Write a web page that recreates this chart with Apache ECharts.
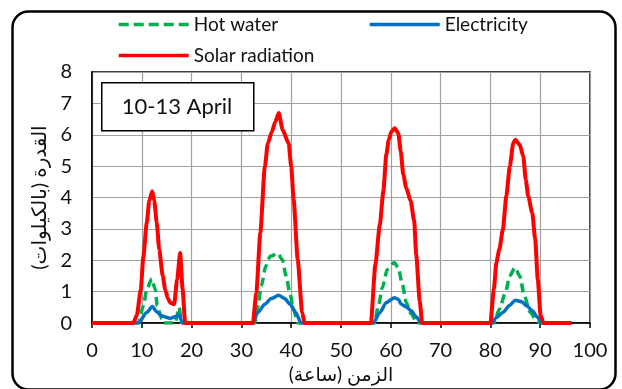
<!DOCTYPE html>
<html>
<head>
<meta charset="utf-8">
<script src="https://cdn.jsdelivr.net/npm/echarts@6/dist/echarts.min.js"></script>
<style>html,body{margin:0;padding:0;background:#fff}#c{width:622px;height:389px}</style>
</head>
<body>
<div id="c"></div>
<script>
const seriesNames = ['Hot water', 'Electricity', 'Solar radiation'];
const xTicks = [0, 10, 20, 30, 40, 50, 60, 70, 80, 90, 100];
const yTicks = [0, 1, 2, 3, 4, 5, 6, 7, 8];
const xAxisName = '\u200Fالزمن (ساعة)\u200F';
const yAxisName = '\u200Fالقدرة (بالكيلوات)\u200F';
const annotation = '10-13 April';

const hotWaterHours = [0, 9.3, 10.3, 11, 12, 12.7, 13.1, 14, 14.3, 16.7, 17.5, 18, 32.7, 33.3, 34, 34.9, 35.8, 37.3, 38.2, 39, 39.7, 40.5, 41.3, 56.7, 57.5, 58.3, 59.3, 60.7, 61.5, 62.3, 63.1, 64.1, 65.3, 80.7, 81.8, 83, 83.9, 84.9, 85.9, 86.8, 88, 89.3, 90, 96];
const hotWaterValues = [0, 0, 0.55, 1.07, 1.41, 1.07, 0.55, 0.13, 0, 0, 0.5, 0, 0, 0.55, 1.18, 1.82, 2.13, 2.22, 2.03, 1.5, 0.97, 0.44, 0, 0, 0.55, 1.13, 1.71, 1.93, 1.77, 1.24, 0.66, 0.29, 0, 0, 0.44, 0.97, 1.5, 1.77, 1.5, 0.87, 0.34, 0.07, 0, 0];

const electricityHours = [0, 9.3, 11, 12.1, 13, 14, 15.7, 16.9, 17.5, 18, 18.3, 32.3, 33.3, 34.7, 36, 37.5, 38.7, 39.8, 40.9, 42, 56.5, 57.8, 59.1, 60.7, 61.5, 62.1, 63.1, 64.1, 65.1, 66.1, 80.3, 81.2, 82.5, 83.9, 85, 86.3, 87.3, 88.4, 89.5, 90.3, 96];
const electricityValues = [0, 0, 0.34, 0.53, 0.36, 0.23, 0.15, 0.21, 0.28, 0.05, 0, 0, 0.34, 0.6, 0.78, 0.89, 0.78, 0.6, 0.34, 0, 0, 0.34, 0.66, 0.81, 0.76, 0.6, 0.52, 0.39, 0.2, 0, 0, 0.18, 0.34, 0.57, 0.73, 0.68, 0.55, 0.39, 0.18, 0, 0];

const solarHours = [0, 8.3, 9, 9.8, 10.3, 11, 11.5, 12.1, 12.5, 13, 13.5, 14.2, 14.7, 15.2, 15.7, 16.5, 17.1, 17.7, 18.2, 18.7, 32.3, 33, 33.8, 34.7, 35.3, 36.1, 36.8, 37.5, 38.3, 39.5, 40, 40.5, 41.3, 42.2, 42.7, 56, 56.9, 57.8, 58.5, 59.1, 59.6, 60.1, 60.8, 61.5, 62, 62.5, 63.1, 64, 64.7, 65.1, 65.8, 66.3, 80, 80.7, 81.2, 81.8, 82.5, 83.2, 83.9, 84.6, 85, 85.9, 86.6, 87.1, 87.6, 88.4, 89, 89.5, 90.1, 90.7, 96.3];
const solarValues = [0, 0, 0.25, 1.07, 2.1, 3.2, 3.9, 4.2, 3.9, 3.2, 2.35, 1.5, 1.07, 0.8, 0.65, 0.6, 1.4, 2.23, 1.07, 0, 0, 0.97, 2.87, 4.98, 5.72, 6.09, 6.41, 6.69, 6.15, 5.72, 4.98, 3.93, 2.03, 0.34, 0, 0, 1.87, 3.14, 4.2, 5.37, 5.84, 6.1, 6.21, 6.05, 5.47, 4.73, 4.31, 3.88, 3.25, 2.19, 0.71, 0, 0, 1.08, 1.93, 2.35, 2.98, 4.04, 5.0, 5.74, 5.84, 5.68, 5.31, 4.57, 4.04, 3.51, 2.67, 1.4, 0.23, 0, 0];

const pairs = (xs, ys) => xs.map((x, i) => [x, ys[i]]);
const FONT = 'Lato, "DejaVu Sans", sans-serif';
const legendBase = {itemWidth: 70, itemHeight: 14,
  itemStyle: {color: 'transparent', borderColor: 'transparent', borderWidth: 0, opacity: 0},
  textStyle: {fontSize: 19, color: '#111', fontFamily: FONT}};

const chart = echarts.init(document.getElementById('c'), null, {renderer: 'canvas'});
chart.setOption({
  animation: false,
  backgroundColor: '#fff',
  textStyle: {fontFamily: FONT},
  grid: {left: 92, right: 32, top: 72, bottom: 65, show: true, borderColor: '#000', borderWidth: 1.5, containLabel: false},
  legend: [
    Object.assign({data: [seriesNames[0]], left: 112, top: 10, lineStyle: {width: 3.5, type: [10, 5], color: '#00b050'}}, legendBase),
    Object.assign({data: [seriesNames[1]], left: 363, top: 10, lineStyle: {width: 3.5, color: '#0070c0'}}, legendBase),
    Object.assign({data: [seriesNames[2]], left: 112, top: 41, lineStyle: {width: 3.5, color: '#ff0000'}}, legendBase)
  ],
  xAxis: {
    type: 'value', min: xTicks[0], max: xTicks[xTicks.length - 1], interval: 10,
    name: xAxisName, nameLocation: 'middle', nameGap: 41,
    nameTextStyle: {fontSize: 19, color: '#111', fontFamily: FONT},
    axisLine: {show: true, lineStyle: {color: '#000', width: 1.5}},
    axisTick: {show: true, length: 5, lineStyle: {color: '#000', width: 1.5}},
    axisLabel: {fontSize: 20, color: '#111', margin: 17, fontFamily: FONT},
    splitLine: {show: true, lineStyle: {color: '#a0a0a0', width: 1.2}}
  },
  yAxis: {
    type: 'value', min: yTicks[0], max: yTicks[yTicks.length - 1], interval: 1,
    name: yAxisName, nameLocation: 'middle', nameGap: 42, nameRotate: 90,
    nameTextStyle: {fontSize: 20, color: '#111', fontFamily: FONT},
    axisLine: {show: true, lineStyle: {color: '#000', width: 1.5}},
    axisTick: {show: false},
    axisLabel: {fontSize: 20, color: '#111', margin: 20, fontFamily: FONT},
    splitLine: {show: true, lineStyle: {color: '#a0a0a0', width: 1.2}}
  },
  series: [
    {name: seriesNames[0], type: 'line', data: pairs(hotWaterHours, hotWaterValues), symbol: 'none', smooth: 0.25, smoothMonotone: 'x',
     lineStyle: {color: '#00b050', width: 3.5, type: [9, 5]}, itemStyle: {color: '#00b050'}, z: 2},
    {name: seriesNames[1], type: 'line', data: pairs(electricityHours, electricityValues), symbol: 'none', smooth: 0.25, smoothMonotone: 'x',
     lineStyle: {color: '#0070c0', width: 3.5}, itemStyle: {color: '#0070c0'}, z: 3},
    {name: seriesNames[2], type: 'line', data: pairs(solarHours, solarValues), symbol: 'none', smooth: 0.2, smoothMonotone: 'x',
     lineStyle: {color: '#ff0000', width: 4}, itemStyle: {color: '#ff0000'}, z: 4}
  ],
  graphic: [
    {type: 'rect', left: 10, top: 9, shape: {width: 603, height: 378, r: 16}, style: {fill: 'none', stroke: '#000', lineWidth: 2.5}, z: 100, silent: true},
    {type: 'rect', left: 101, top: 82, shape: {width: 152, height: 48}, style: {fill: '#fff', stroke: '#000', lineWidth: 1.5}, z: 50},
    {type: 'text', x: 177, y: 107, style: {text: annotation, fontSize: 22, fill: '#111', fontFamily: FONT, align: 'center', verticalAlign: 'middle', textAlign: 'center', textVerticalAlign: 'middle'}, z: 51}
  ]
});
</script>
</body>
</html>
